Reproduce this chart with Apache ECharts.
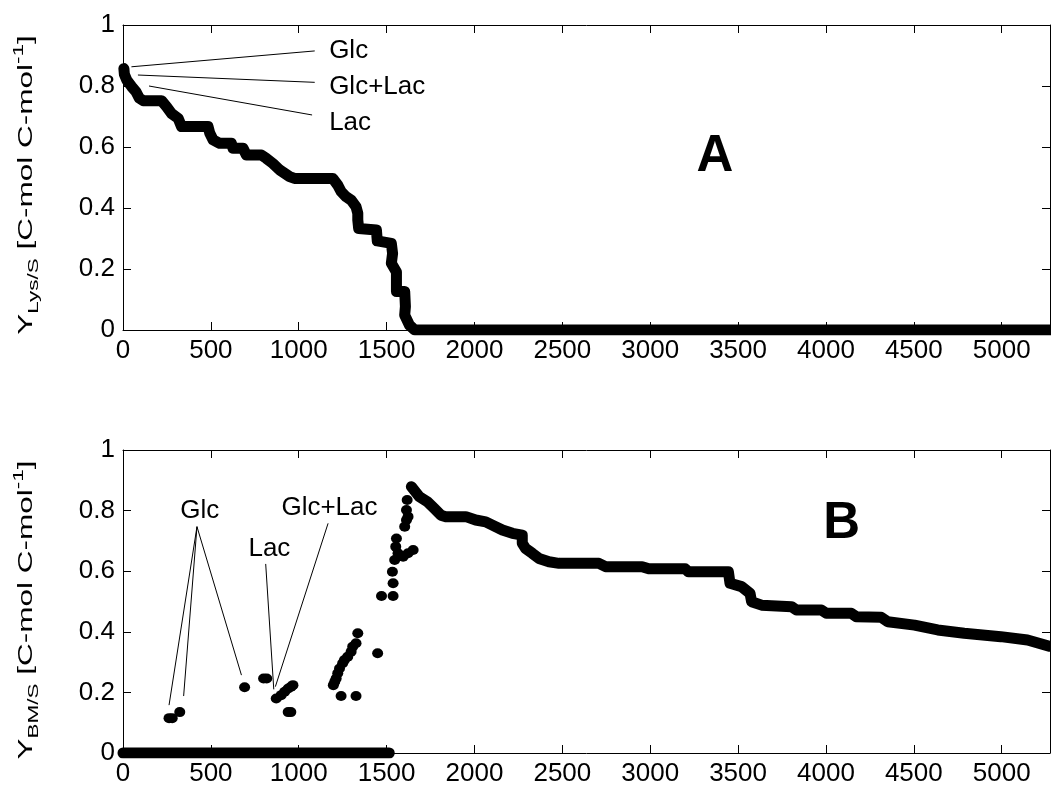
<!DOCTYPE html>
<html><head><meta charset="utf-8">
<script src="https://cdn.jsdelivr.net/npm/echarts@6/dist/echarts.min.js"></script>
<style>html,body{margin:0;padding:0;background:#fff}#c{width:1051px;height:789px}</style>
</head><body><div id="c"></div>
<script>
// ---- axes ----
const xMin = 0, xMax = 5275, xStep = 500;
const yMin = 0, yMax = 1, yStep = 0.2;

// ---- Panel A: Y_Lys/S (dense point band, vertices) ----
const lysX = [5, 8, 21, 49, 74, 93, 115, 219, 248, 276, 314, 333, 484, 494, 513, 550, 617, 626, 683, 702, 787, 815, 853, 891, 948, 976, 1194, 1222, 1241, 1269, 1298, 1326, 1336, 1336, 1341, 1442, 1447, 1527, 1534, 1527, 1556, 1556, 1556, 1603, 1607, 1603, 1630, 1660, 5275];
const lysY = [0.857, 0.838, 0.820, 0.798, 0.781, 0.760, 0.752, 0.752, 0.732, 0.710, 0.694, 0.667, 0.667, 0.645, 0.623, 0.612, 0.612, 0.596, 0.596, 0.574, 0.574, 0.563, 0.546, 0.525, 0.503, 0.497, 0.497, 0.475, 0.454, 0.437, 0.426, 0.404, 0.383, 0.361, 0.333, 0.328, 0.292, 0.284, 0.251, 0.219, 0.190, 0.153, 0.126, 0.126, 0.077, 0.049, 0.016, 0, 0];

// ---- Panel B: Y_BM/S ----
const bmZeroX = [0, 1515];
const bmZeroY = [0, 0];
const bmLineX = [1641, 1651, 1686, 1733, 1771, 1809, 1837, 1951, 2007, 2064, 2102, 2159, 2216, 2272, 2272, 2291, 2329, 2367, 2424, 2481, 2708, 2746, 2954, 2992, 3199, 3218, 3445, 3454, 3520, 3568, 3577, 3634, 3804, 3832, 3974, 4002, 4144, 4172, 4314, 4352, 4504, 4636, 4787, 4995, 5147, 5275];
const bmLineY = [0.879, 0.884, 0.846, 0.829, 0.807, 0.785, 0.780, 0.780, 0.769, 0.763, 0.752, 0.736, 0.725, 0.719, 0.692, 0.675, 0.659, 0.642, 0.631, 0.626, 0.626, 0.615, 0.615, 0.608, 0.608, 0.598, 0.598, 0.560, 0.549, 0.527, 0.499, 0.488, 0.483, 0.472, 0.472, 0.461, 0.461, 0.450, 0.448, 0.433, 0.422, 0.406, 0.395, 0.384, 0.373, 0.352];
const bmDotX = [262, 280, 323, 692, 800, 818, 872, 900, 920, 940, 957, 967, 940, 955, 1197, 1205, 1213, 1222, 1232, 1250, 1260, 1279, 1298, 1307, 1326, 1336, 1241, 1326, 1449, 1471, 1537, 1537, 1533, 1546, 1552, 1556, 1565, 1594, 1622, 1651, 1603, 1613, 1622, 1613, 1617];
const bmDotY = [0.115, 0.115, 0.135, 0.217, 0.246, 0.246, 0.180, 0.191, 0.202, 0.213, 0.219, 0.224, 0.135, 0.135, 0.224, 0.235, 0.246, 0.263, 0.279, 0.296, 0.307, 0.318, 0.334, 0.351, 0.362, 0.395, 0.188, 0.188, 0.329, 0.518, 0.518, 0.560, 0.598, 0.637, 0.681, 0.708, 0.659, 0.648, 0.659, 0.670, 0.747, 0.769, 0.780, 0.802, 0.835];

// ---- annotations (data units) ----
const annoA_text = ['Glc', 'Glc+Lac', 'Lac'];
const annoA_tx = [1173, 1173, 1173];
const annoA_ty = [0.915, 0.797, 0.680];
const annoA_from = [[48, 0.863], [85, 0.836], [148, 0.800]];
const annoA_to = [[1091, 0.915], [1091, 0.812], [1076, 0.705]];

const annoB_text = ['Glc', 'Lac', 'Glc+Lac'];
const annoB_tx = [437, 833, 1175];
const annoB_ty = [0.799, 0.673, 0.808];
const annoB_from = [[421, 0.747], [421, 0.747], [421, 0.747], [812, 0.624], [1167, 0.758]];
const annoB_to = [[262, 0.158], [345, 0.188], [674, 0.257], [858, 0.210], [867, 0.219]];

const panelLabels = ['A', 'B'];
const panelLX = [3368, 4089];
const panelLY = [0.568, 0.757];

const FONT = '"Liberation Sans", Arial, Helvetica, sans-serif';
const pairs = (xs, ys) => xs.map((x, i) => [x, ys[i]]);

const chart = echarts.init(document.getElementById('c'), null, {renderer: 'canvas'});

function xAx(gi, top) {
  return {
    type: 'value', gridIndex: gi, min: xMin, max: xMax, interval: xStep,
    position: top ? 'top' : 'bottom',
    axisLine: {show: true, onZero: false, lineStyle: {color: '#000', width: 1}},
    axisTick: {show: true, inside: true, length: 8, lineStyle: {color: '#000'}},
    axisLabel: {show: !top, showMaxLabel: false, margin: 8, color: '#000', fontSize: 26, fontFamily: FONT,
      formatter: v => String(Math.round(v))},
    splitLine: {show: false}
  };
}
function yAx(gi, right) {
  return {
    type: 'value', gridIndex: gi, min: yMin, max: yMax, interval: yStep,
    position: right ? 'right' : 'left',
    axisLine: {show: true, onZero: false, lineStyle: {color: '#000', width: 1}},
    axisTick: {show: true, inside: true, length: 8, lineStyle: {color: '#000'}},
    axisLabel: {show: !right, margin: 8, color: '#000', fontSize: 26, fontFamily: FONT,
      formatter: v => String(Math.round(v * 10) / 10)},
    splitLine: {show: false}
  };
}

const bandLine = (name, xi, yi, data) => ({
  name, type: 'line', xAxisIndex: xi, yAxisIndex: yi, data,
  showSymbol: false, symbol: 'none', clip: true,
  lineStyle: {color: '#000', width: 11, cap: 'round', join: 'round', opacity: 1},
  silent: true
});

function annoLines(from, to) {
  return {
    silent: true, symbol: ['none', 'none'], animation: false,
    lineStyle: {color: '#000', width: 1, type: 'solid', opacity: 1},
    label: {show: false},
    data: from.map((f, i) => [{coord: f}, {coord: to[i]}])
  };
}

function textSeries(xi, yi, xs, ys, texts, pos, size, bold) {
  return {
    type: 'scatter', xAxisIndex: xi, yAxisIndex: yi, symbolSize: 0, silent: true,
    itemStyle: {opacity: 1, color: '#000'},
    data: xs.map((x, i) => [x, ys[i], texts[i]]),
    label: {show: true, position: pos, distance: 0, formatter: p => p.value[2],
      color: '#000', fontSize: size, fontWeight: bold ? 'bold' : 'normal', fontFamily: FONT,
      textBorderWidth: 0}
  };
}

const sA = bandLine('lys', 0, 0, pairs(lysX, lysY));
sA.markLine = annoLines(annoA_from, annoA_to);
const sBz = bandLine('bmZero', 2, 2, pairs(bmZeroX, bmZeroY));
const sBl = bandLine('bmLine', 2, 2, pairs(bmLineX, bmLineY));
const sBd = {
  type: 'scatter', xAxisIndex: 2, yAxisIndex: 2, data: pairs(bmDotX, bmDotY),
  symbol: 'circle', symbolSize: [11, 10], itemStyle: {color: '#000', opacity: 1}, silent: true,
  markLine: annoLines(annoB_from, annoB_to)
};

const yLabelRich = {
  m: {fontSize: 21, lineHeight: 30, fontFamily: FONT, color: '#000'},
  s: {fontSize: 15, lineHeight: 15, verticalAlign: 'bottom', fontFamily: FONT, color: '#000'},
  p: {fontSize: 15, lineHeight: 15, verticalAlign: 'top', fontFamily: FONT, color: '#000'}
};
function yLabel(y, sub) {
  return {
    type: 'text', x: 26, y: y, rotation: Math.PI / 2, scaleX: 1.5, silent: true,
    style: {
      text: '{m|Y}{s|' + sub + '}{m| [C-mol C-mol}{p|-1}{m|]}',
      rich: yLabelRich, align: 'center', verticalAlign: 'middle', fill: '#000',
      fontFamily: FONT, fontSize: 21
    }
  };
}

chart.setOption({
  animation: false,
  backgroundColor: '#fff',
  grid: [
    {left: 123, top: 25, width: 927, height: 305, containLabel: false},
    {left: 123, top: 450, width: 927, height: 303, containLabel: false}
  ],
  xAxis: [xAx(0, false), xAx(0, true), xAx(1, false), xAx(1, true)],
  yAxis: [yAx(0, false), yAx(0, true), yAx(1, false), yAx(1, true)],
  series: [
    sA, sBz, sBl, sBd,
    textSeries(0, 0, annoA_tx, annoA_ty, annoA_text, 'right', 26, false),
    textSeries(2, 2, annoB_tx, annoB_ty, annoB_text, 'inside', 26, false),
    textSeries(0, 0, [panelLX[0]], [panelLY[0]], [panelLabels[0]], 'inside', 51, true),
    textSeries(2, 2, [panelLX[1]], [panelLY[1]], [panelLabels[1]], 'inside', 51, true)
  ],
  graphic: [yLabel(185, 'Lys/S'), yLabel(610, 'BM/S')]
});
</script></body></html>
